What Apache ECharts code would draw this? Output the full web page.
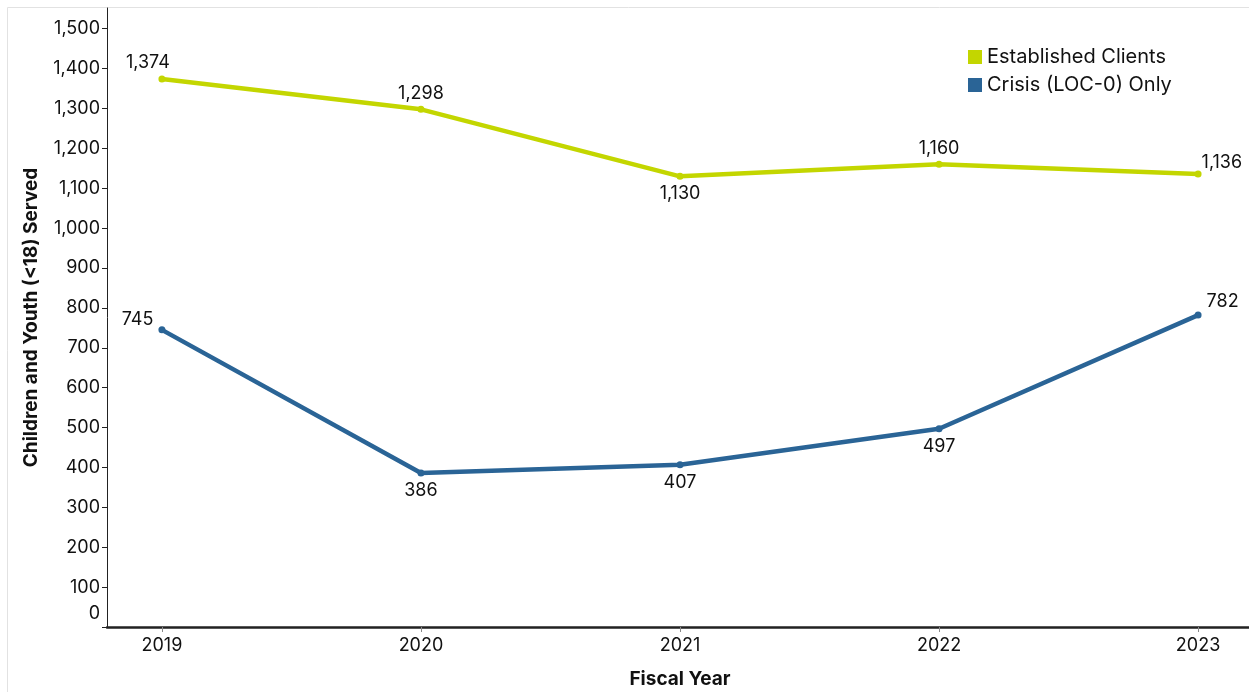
<!DOCTYPE html>
<html>
<head>
<meta charset="utf-8">
<script src="https://cdn.jsdelivr.net/npm/echarts@6/dist/echarts.min.js"></script>
<style>
html,body{margin:0;padding:0;background:#fff;}
#chart{width:1249px;height:692px;}
</style>
</head>
<body>
<div id="chart"></div>
<script>
const years = [2019, 2020, 2021, 2022, 2023];
const established = [1374, 1298, 1130, 1160, 1136];
const crisis = [745, 386, 407, 497, 782];
const yTicks = [0,100,200,300,400,500,600,700,800,900,1000,1100,1200,1300,1400,1500];
const seriesNames = ['Established Clients', 'Crisis (LOC-0) Only'];

const FONT = 'Inter, "Noto Sans", sans-serif';

const estLabels = [
  {position:'top', offset:[-14,1]},
  {position:'top', offset:[0,2]},
  {position:'bottom', offset:[0,0]},
  {position:'top', offset:[0,2]},
  {position:'right', offset:[-5,-11]}
];
const criLabels = [
  {position:'left', offset:[0,-10]},
  {position:'bottom', offset:[0,0]},
  {position:'bottom', offset:[0,0]},
  {position:'bottom', offset:[0,0]},
  {position:'right', offset:[0,-14]}
];

function build(vals, lbls) {
  return vals.map((v, i) => ({value: [years[i], v], label: lbls[i]}));
}
const fmt = n => n.toLocaleString('en-US');

const chart = echarts.init(document.getElementById('chart'));
chart.setOption({
  animation: false,
  textStyle: {fontFamily: FONT},
  graphic: [{
    type: 'rect', shape: {x: 7.5, y: 7.5, width: 1400, height: 800},
    style: {fill: 'none', stroke: '#e2e2e2', lineWidth: 1}, z: -1
  }],
  legend: {
    orient: 'vertical', left: 963, top: 42, itemGap: 8,
    icon: 'rect', itemWidth: 14, itemHeight: 14,
    textStyle: {fontSize: 20, color: '#111', fontFamily: FONT},
    data: seriesNames
  },
  grid: {left: 107, right: -4, top: 8, bottom: 65, containLabel: false, outerBoundsMode: 'none'},
  xAxis: {
    type: 'value', min: 2018.788, max: 2023.212,
    name: 'Fiscal Year', nameLocation: 'middle', nameGap: 43,
    nameTextStyle: {fontSize: 19, fontWeight: 'bold', color: '#111', fontFamily: FONT},
    axisLine: {show: true, lineStyle: {color: '#222', width: 2.5}},
    axisTick: {show: true, length: 5, customValues: years, lineStyle: {color: '#888'}},
    axisLabel: {customValues: years, fontSize: 18, color: '#111', margin: 10, formatter: v => String(v)},
    splitLine: {show: false}
  },
  yAxis: {
    type: 'value', min: 0, max: 1552,
    name: 'Children and Youth (<18) Served', nameLocation: 'middle', nameGap: 66,
    nameTextStyle: {fontSize: 19, fontWeight: 'bold', color: '#111', fontFamily: FONT},
    axisLine: {show: true, lineStyle: {color: '#222', width: 1}},
    axisTick: {show: true, length: 5, customValues: yTicks, lineStyle: {color: '#222'}},
    axisLabel: {
      customValues: yTicks, fontSize: 18, color: '#111', margin: 7,
      formatter: v => v === 0 ? '{z|0}' : fmt(v),
      rich: {z: {fontSize: 18, color: '#111', padding: [0,0,26,0], fontFamily: FONT}}
    },
    splitLine: {show: false}
  },
  series: [
    {
      name: seriesNames[0], type: 'line', data: build(established, estLabels),
      color: '#c3d600', symbol: 'circle', symbolSize: 7,
      lineStyle: {width: 4.5, color: '#c3d600'}, itemStyle: {color: '#c3d600'},
      label: {show: true, fontSize: 18, color: '#111', fontFamily: FONT, formatter: p => fmt(p.value[1])}
    },
    {
      name: seriesNames[1], type: 'line', data: build(crisis, criLabels),
      color: '#2a6496', symbol: 'circle', symbolSize: 7,
      lineStyle: {width: 4.5, color: '#2a6496'}, itemStyle: {color: '#2a6496'},
      label: {show: true, fontSize: 18, color: '#111', fontFamily: FONT, formatter: p => fmt(p.value[1])}
    }
  ]
});
</script>
</body>
</html>
